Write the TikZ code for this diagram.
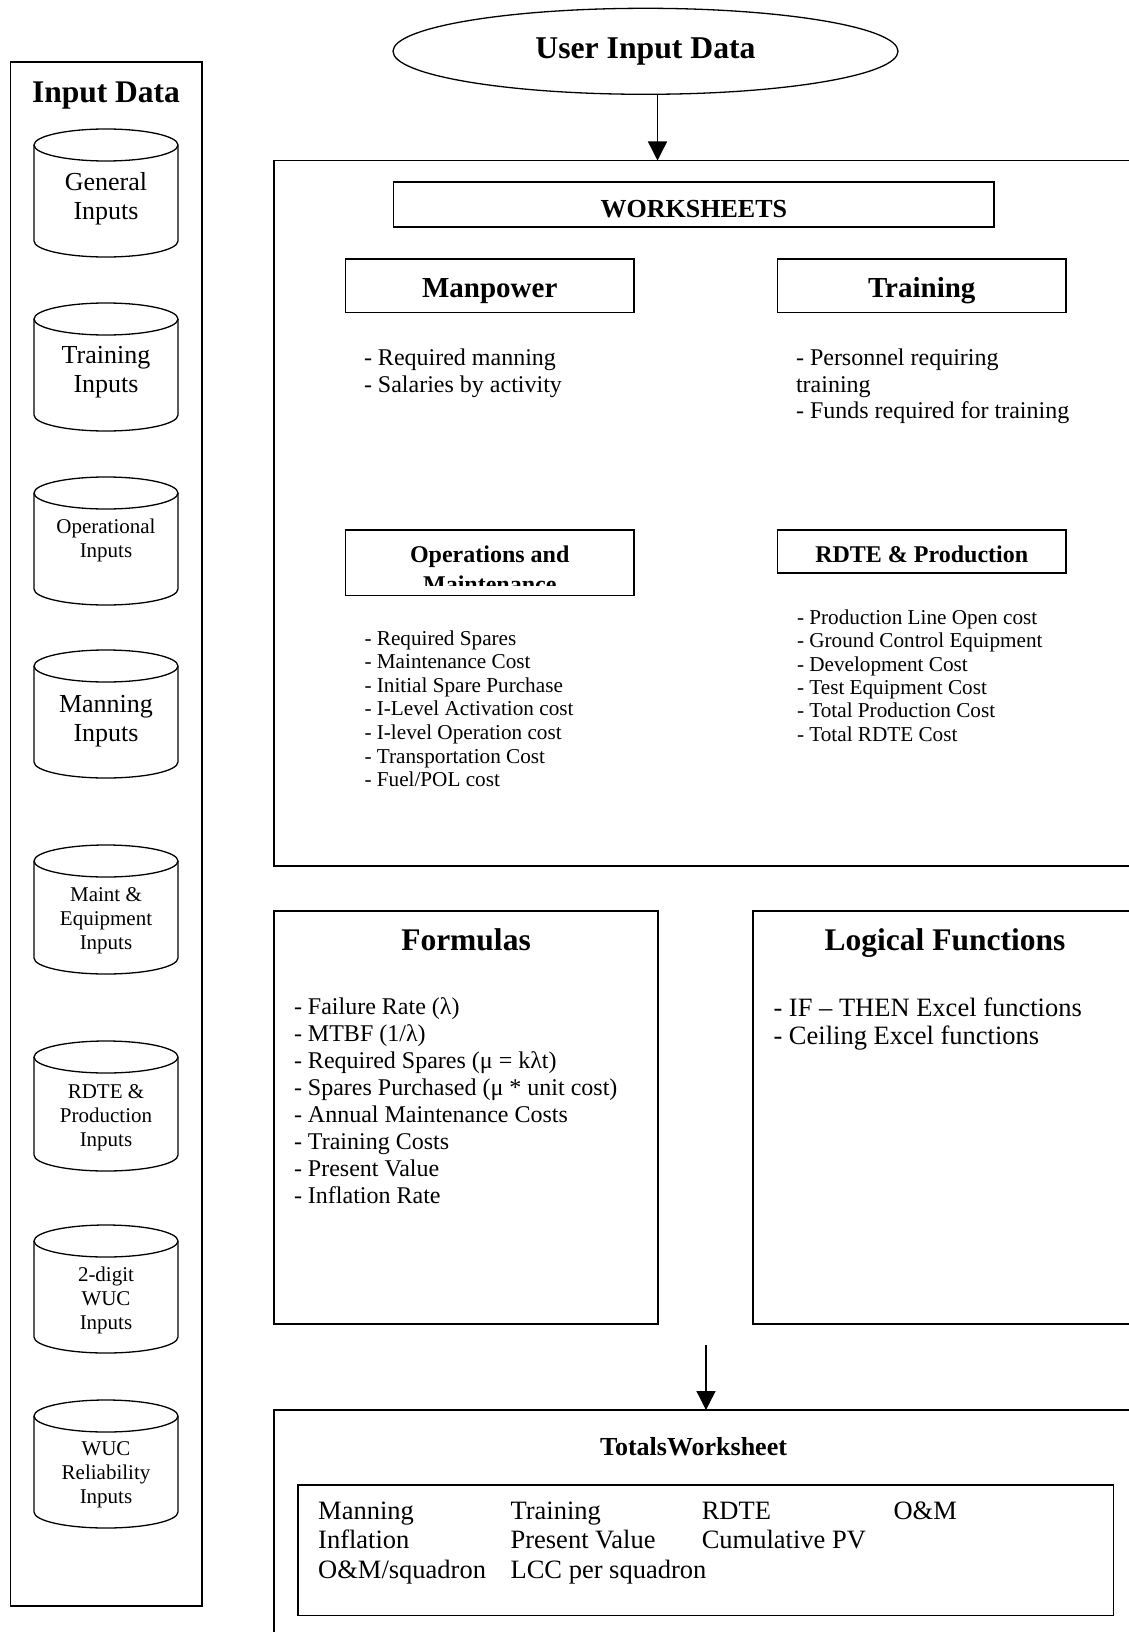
\documentclass[tikz,border=0pt]{standalone}
\usepackage{fontspec}
\setmainfont{Liberation Serif}
\usetikzlibrary{shapes.geometric,arrows.meta}
\newcommand\myfs[2]{\fontsize{#1}{#2}\selectfont}
\newcommand\mycyl[6]{%
 \draw[line] (34,#2+16) -- (34,#3-16) .. controls (34,#3-7.16) and (66.2,#3) .. (106,#3) .. controls (145.8,#3) and (178,#3-7.16) .. (178,#3-16) -- (178,#2+16);
 \draw[line] (106,#2+16) ellipse[x radius=72,y radius=16];
 \node[txt,align=center,#5] (#1) at (106,#4) {#6};}
\begin{document}
\begin{tikzpicture}[x=1pt,y=-1pt,
 line/.style={line width=1.3pt},
 box/.style={draw,line width=1.3pt,rectangle,inner sep=0pt,outer sep=0pt},
 arr/.style={line width=1.3pt,-{Triangle[length=19pt,width=19pt]}},
 txt/.style={inner sep=0pt,outer sep=0pt},
 list/.style={txt,anchor=north west,align=left},
 cbig/.style={font=\myfs{26}{29}},
 csmall/.style={font=\myfs{21}{24}},
 ttl/.style={txt,anchor=base,font=\bfseries\myfs{31.5}{36}}]
\clip (0,0) rectangle (1129,1632);
% left column
\node[box,minimum width=191.6pt,minimum height=1544pt] (inbox) at (106.2,834) {};
\node[ttl] (inT) at (106,103) {Input Data};
\mycyl{c1}{129}{257}{198.6}{cbig}{General\\Inputs}
\mycyl{c2}{303}{431}{372.4}{cbig}{Training\\Inputs}
\mycyl{c3}{477}{605}{540.5}{csmall}{Operational\\Inputs}
\mycyl{c4}{650}{778}{721}{cbig}{Manning\\Inputs}
\mycyl{c5}{845}{974}{920.8}{csmall}{Maint \&\\Equipment\\Inputs}
\mycyl{c6}{1041}{1171}{1117.5}{csmall}{RDTE \&\\Production\\Inputs}
\mycyl{c7}{1225}{1353}{1300.6}{csmall}{2-digit\\WUC\\Inputs}
\mycyl{c8}{1400}{1528}{1474.4}{csmall}{WUC\\Reliability\\Inputs}
% user input
\node[draw,ellipse,line,minimum width=505pt,minimum height=86pt,inner sep=0pt,font=\bfseries\myfs{31.7}{36}] (uid) at (645.5,51.3) {User Input Data};
% worksheets
\node[box,minimum width=866pt,minimum height=705.5pt] (ws) at (707,513.25) {};
\coordinate (a1) at (657.5,0);
\draw[arr] (uid.south -| a1) -- (ws.north -| a1);
\node[box,minimum width=600.2pt,minimum height=45pt] (wsb) at (693.9,204.5) {};
\node[txt,anchor=base,font=\bfseries\myfs{26}{30}] (wsT) at (693.9,217.5) {WORKSHEETS};
\node[box,minimum width=288.5pt,minimum height=53.5pt] (mpb) at (489.75,285.75) {};
\node[txt,anchor=base,font=\bfseries\myfs{29}{33}] (mpT) at (489.75,297) {Manpower};
\node[box,minimum width=288.5pt,minimum height=53.5pt] (trb) at (921.75,285.75) {};
\node[txt,anchor=base,font=\bfseries\myfs{29}{33}] (trT) at (921.75,297) {Training};
\node[list,font=\myfs{24}{26.8}] (mpL) at (364,346.5) {\strut- Required manning\\- Salaries by activity};
\node[list,font=\myfs{24}{26.8}] (trL) at (796,346.5) {\strut- Personnel requiring\\training\\- Funds required for training};
\node[box,minimum width=288.5pt,minimum height=65.5pt] (opb) at (489.75,562.75) {};
\begin{scope}
\clip (346.5,531) rectangle (633,585.5);
\node[txt,anchor=north,align=center,font=\bfseries\myfs{24}{29.8}] (opT) at (489.75,541.7) {\strut Operations and\\Maintenance};
\end{scope}
\node[box,minimum width=288.5pt,minimum height=43pt] (rdb) at (921.75,551.5) {};
\node[txt,anchor=base,font=\bfseries\myfs{24}{28}] (rdT) at (921.75,562.6) {RDTE \& Production};
\node[list,font=\myfs{21.2}{23.6}] (opL) at (364.5,628.5) {\strut- Required Spares\\- Maintenance Cost\\- Initial Spare Purchase\\- I-Level Activation cost\\- I-level Operation cost\\- Transportation Cost\\- Fuel/POL cost};
\node[list,font=\myfs{21.2}{23.3}] (rdL) at (797,608.2) {\strut- Production Line Open cost\\- Ground Control Equipment\\- Development Cost\\- Test Equipment Cost\\- Total Production Cost\\- Total RDTE Cost};
% formulas and logical
\node[box,minimum width=384pt,minimum height=413pt] (fb) at (466,1117.5) {};
\node[ttl] (fT) at (466,950) {Formulas};
\node[list,font=\myfs{24}{27}] (fL) at (294,995.3) {\strut- Failure Rate (λ)\\- MTBF (1/λ)\\- Required Spares (μ = kλt)\\- Spares Purchased (μ * unit cost)\\- Annual Maintenance Costs\\- Training Costs\\- Present Value\\- Inflation Rate};
\node[list,font=\myfs{26.5}{28.8}] (lL) at (773.5,996) {\strut- IF – THEN Excel functions\\- Ceiling Excel functions};
\node[box,minimum width=387pt,minimum height=413pt] (lb) at (946.5,1117.5) {};
\node[ttl] (lT) at (945,950) {Logical Functions};
% totals
\node[box,minimum width=866pt,minimum height=250pt] (tot) at (707,1535) {};
\coordinate (a2) at (706,1345);
\draw[arr] (a2) -- (tot.north -| a2);
\node[txt,anchor=base,font=\bfseries\myfs{26}{30}] (totT) at (693.5,1455) {TotalsWorksheet};
\node[box,minimum width=815.5pt,minimum height=130.5pt] (inner) at (705.75,1550.25) {};
\tikzset{tcol/.style={list,font=\myfs{26.5}{29.4}}}
\node[tcol] (totA) at (318.2,1498.8) {\strut Manning\\Inflation\\O\&M/squadron};
\node[tcol] (totB) at (510.6,1498.8) {\strut Training\\Present Value\\LCC per squadron};
\node[tcol] (totC) at (701.8,1498.8) {\strut RDTE\\Cumulative PV};
\node[tcol] (totD) at (893.6,1498.8) {\strut O\&M};
\end{tikzpicture}
\end{document}
